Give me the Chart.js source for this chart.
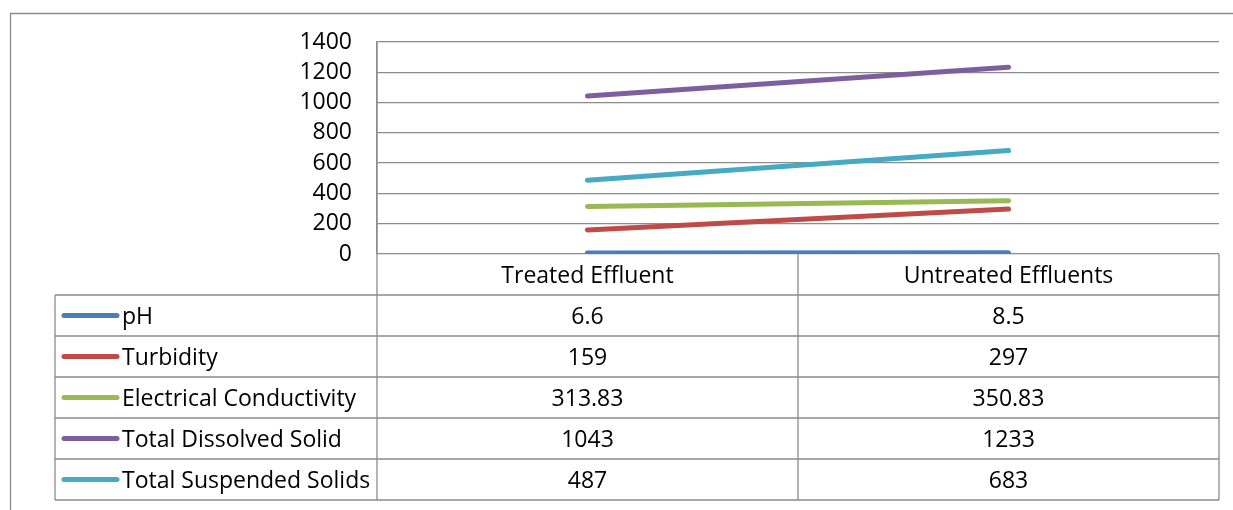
<!DOCTYPE html>
<html>
<head>
<meta charset="utf-8">
<script src="https://cdn.jsdelivr.net/npm/chart.js@4.4.1/dist/chart.umd.min.js"></script>
<style>
  html, body { margin: 0; padding: 0; background: #ffffff; }
  #wrap { width: 1233px; height: 510px; }
</style>
</head>
<body>
<div id="wrap"><canvas id="c" width="1233" height="510"></canvas></div>
<script>
// Sample categories and measured parameters
const categories = ['Treated Effluent', 'Untreated Effluents'];
const seriesNames = ['pH', 'Turbidity', 'Electrical Conductivity', 'Total Dissolved Solid', 'Total Suspended Solids'];
const phValues = [6.6, 8.5];
const turbidityValues = [159, 297];
const conductivityValues = [313.83, 350.83];
const dissolvedValues = [1043, 1233];
const suspendedValues = [487, 683];
const yTicks = [0, 200, 400, 600, 800, 1000, 1200, 1400];

const seriesValues = [phValues, turbidityValues, conductivityValues, dissolvedValues, suspendedValues];
const seriesColors = ['#4A7EBB', '#BE4B48', '#98B954', '#7D5FA0', '#46AAC5'];

const FONT = '"Open Sans", sans-serif';
const FONT_SIZE = 23;
const LINE_GRAY = '#8c8c8c';
const ROW_H = 41;

// Data table drawn under the plot, aligned with the category scale
const dataTable = {
  id: 'dataTable',
  afterDraw(chart) {
    const ctx = chart.ctx;
    const xs = chart.scales.x;
    const area = chart.chartArea;
    const left = area.left, right = area.right, top = area.bottom;
    const mid = (xs.getPixelForTick(0) + xs.getPixelForTick(1)) / 2;
    const tableLeft = 55;
    const nRows = seriesNames.length;
    const bottom = top + ROW_H * (nRows + 1);

    ctx.save();
    ctx.strokeStyle = LINE_GRAY;
    ctx.lineWidth = 1.3;
    ctx.beginPath();
    // outer frame
    ctx.moveTo(10.5, 512); ctx.lineTo(10.5, 13.5); ctx.lineTo(1240, 13.5);
    // vertical rules
    ctx.moveTo(left, area.top); ctx.lineTo(left, bottom);
    ctx.moveTo(mid, top); ctx.lineTo(mid, bottom);
    ctx.moveTo(right, top); ctx.lineTo(right, bottom);
    ctx.moveTo(tableLeft, top + ROW_H); ctx.lineTo(tableLeft, bottom);
    // horizontal rules
    for (let r = 1; r <= nRows + 1; r++) {
      const y = top + r * ROW_H;
      ctx.moveTo(tableLeft, y); ctx.lineTo(right, y);
    }
    ctx.stroke();

    ctx.fillStyle = '#000';
    ctx.font = FONT_SIZE + 'px ' + FONT;
    ctx.textBaseline = 'middle';
    ctx.textAlign = 'center';
    categories.forEach((c, i) => {
      ctx.fillText(c, xs.getPixelForTick(i), top + ROW_H / 2 + 2);
    });

    chart.data.datasets.forEach((ds, r) => {
      const cy = top + (r + 1) * ROW_H + ROW_H / 2;
      // legend key
      ctx.strokeStyle = ds.borderColor;
      ctx.lineWidth = 5;
      ctx.lineCap = 'round';
      ctx.beginPath();
      ctx.moveTo(64, cy); ctx.lineTo(117, cy);
      ctx.stroke();
      ctx.textAlign = 'left';
      ctx.fillText(ds.label, 122, cy + 2);
      ctx.textAlign = 'center';
      ds.data.forEach((v, i) => {
        ctx.fillText(String(v), xs.getPixelForTick(i), cy + 2);
      });
    });
    ctx.restore();
  }
};

new Chart(document.getElementById('c'), {
  type: 'line',
  data: {
    labels: categories,
    datasets: seriesNames.map((name, i) => ({
      label: name,
      data: seriesValues[i],
      borderColor: seriesColors[i],
      backgroundColor: seriesColors[i],
      borderWidth: 5,
      borderCapStyle: 'round',
      pointRadius: 0,
      pointHoverRadius: 0,
      tension: 0
    }))
  },
  options: {
    responsive: false,
    animation: false,
    events: [],
    layout: { padding: { left: 277, right: 14, top: 42, bottom: 256 } },
    plugins: { legend: { display: false }, tooltip: { enabled: false } },
    scales: {
      x: {
        display: false,
        offset: true
      },
      y: {
        min: 0,
        max: 1400,
        afterFit(scale) { scale.width = 100; },
        afterBuildTicks(scale) { scale.ticks = yTicks.map(v => ({ value: v })); },
        grid: { color: LINE_GRAY, lineWidth: 1.3, drawTicks: false },
        border: { display: true, color: LINE_GRAY, width: 1.3 },
        ticks: {
          autoSkip: false,
          padding: 25,
          color: '#000',
          font: { family: FONT, size: FONT_SIZE, lineHeight: 1 },
          callback: (v) => String(v)
        }
      }
    }
  },
  plugins: [dataTable]
});
</script>
</body>
</html>
